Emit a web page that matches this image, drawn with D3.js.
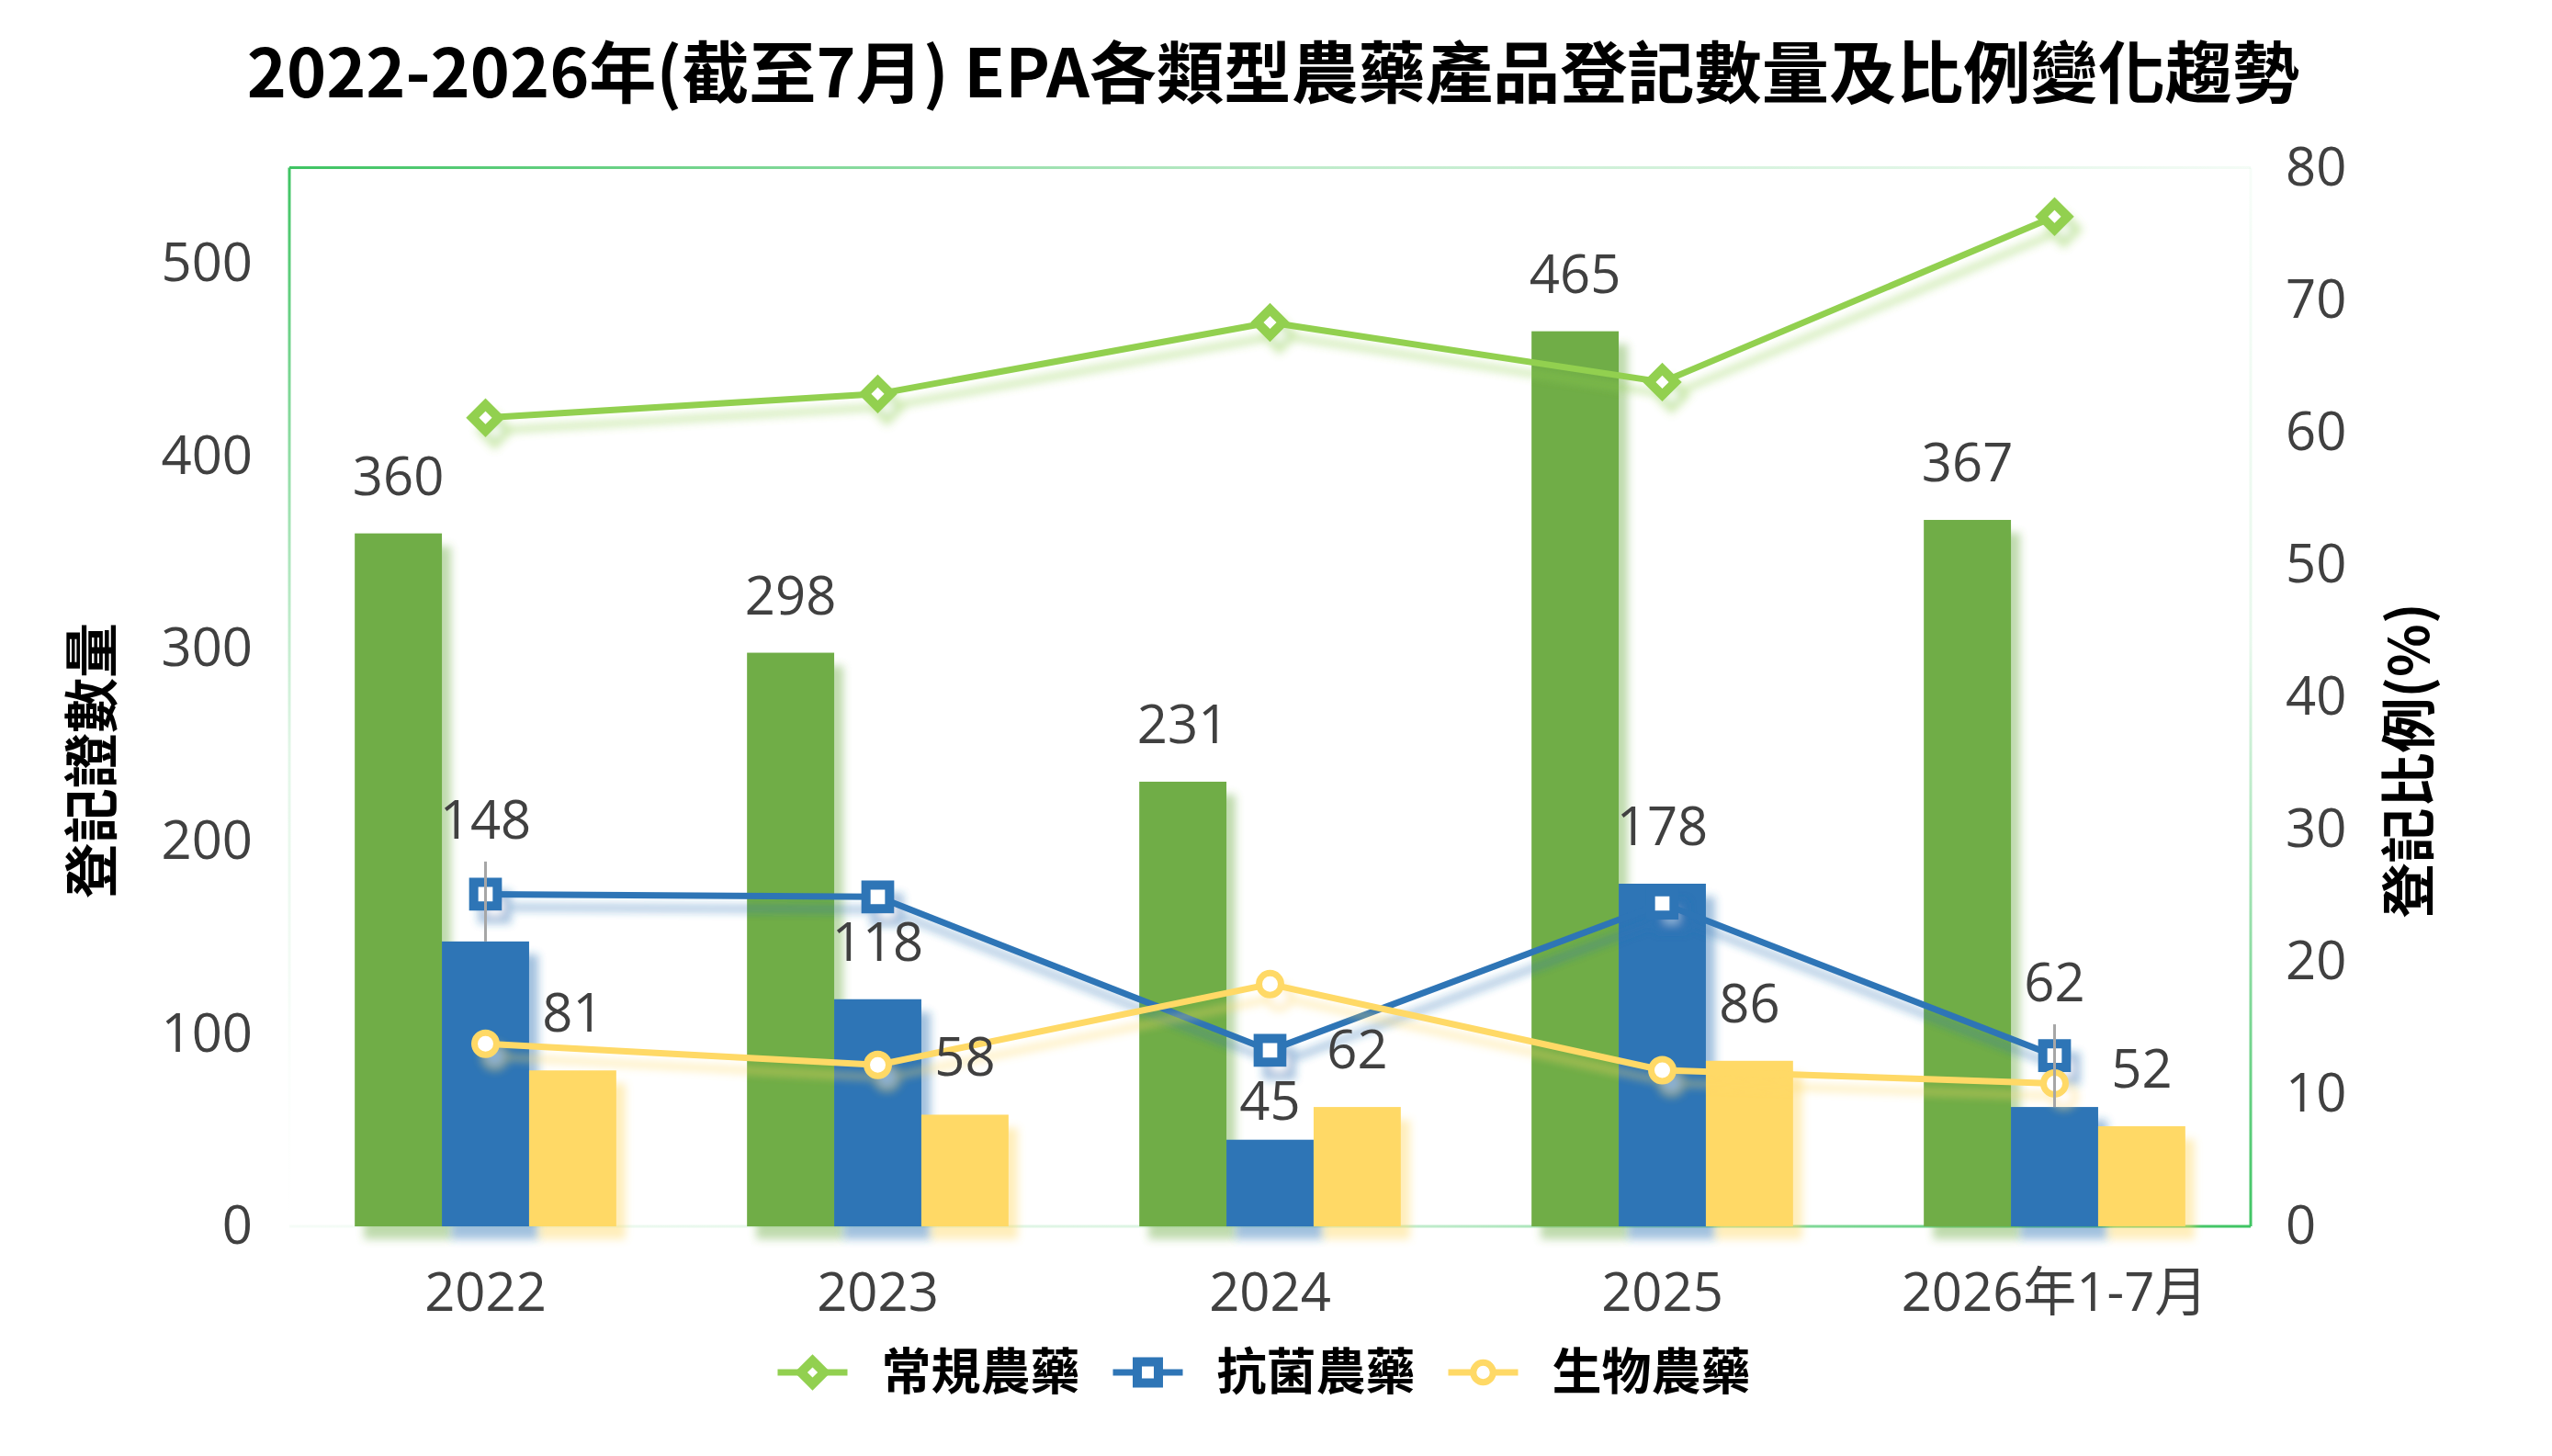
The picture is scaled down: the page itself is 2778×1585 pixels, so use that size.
<!DOCTYPE html>
<html>
  <head>
    <meta charset="utf-8">
    <title>EPA 農藥產品登記數量及比例</title>
    <script src="https://cdn.jsdelivr.net/npm/d3@7"></script>
    <style>
      body { margin: 0; background: #fff; }
      .num { font-family: "Open Sans", "Noto Sans", "Noto Sans CJK TC", sans-serif; fill: #404040; }
      .cjk { font-family: "Noto Sans CJK TC", sans-serif; font-weight: 700; fill: #000; }
    </style>
  </head>
  <body>
    <svg id="chart" width="2778" height="1585"></svg>

    <script>
      // data
      const categories = ["2022", "2023", "2024", "2025", "2026年1-7月"];
      const seriesNames = ["常規農藥", "抗菌農藥", "生物農藥"];
      const conventionalCount = [360, 298, 231, 465, 367];
      const antimicrobialCount = [148, 118, 45, 178, 62];
      const biologicalCount = [81, 58, 62, 86, 52];
      const conventionalShare = [61.1, 62.9, 68.3, 63.8, 76.3];
      const antimicrobialShare = [25.1, 24.9, 13.3, 24.4, 12.9];
      const biologicalShare = [13.8, 12.2, 18.3, 11.8, 10.8];
      const leftTicks = [0, 100, 200, 300, 400, 500];
      const rightTicks = [0, 10, 20, 30, 40, 50, 60, 70, 80];

      const counts = [conventionalCount, antimicrobialCount, biologicalCount];
      const shares = [conventionalShare, antimicrobialShare, biologicalShare];

      // look
      const barColors = ["#70AD47", "#2E75B6", "#FFD966"];
      const lineColors = ["#92D050", "#2E75B6", "#FFD966"];
      const frameColor = "#3FC463";
      const symbols = [d3.symbolSquare, d3.symbolSquare, d3.symbolCircle];
      const symbolSizes = [400, 660, 452];
      const symbolStroke = [10, 10, 7];
      const symbolRotate = [45, 0, 0];

      // label nudges for crowded blue labels (series-index)
      const labelNudge = {
        "1-0": { dy: -112, leader: true },
        "1-2": { dy: -22 },
        "1-4": { dy: -115, leader: true }
      };

      const W = 2778, H = 1585;
      const plot = { left: 315, right: 2450, top: 182.5, bottom: 1335 };

      const svg = d3.select("#chart");
      const defs = svg.append("defs");

      // soft coloured drop shadow
      const f = defs.append("filter")
        .attr("id", "shadow")
        .attr("filterUnits", "userSpaceOnUse")
        .attr("x", 0).attr("y", 0).attr("width", W).attr("height", H);
      f.append("feGaussianBlur").attr("in", "SourceGraphic").attr("stdDeviation", 5).attr("result", "blur");
      f.append("feOffset").attr("in", "blur").attr("dx", 10).attr("dy", 14).attr("result", "off");
      f.append("feComponentTransfer").attr("in", "off").attr("result", "sh")
        .append("feFuncA").attr("type", "linear").attr("slope", 0.45);
      const merge = f.append("feMerge");
      merge.append("feMergeNode").attr("in", "sh");
      merge.append("feMergeNode").attr("in", "SourceGraphic");

      // scales
      const x = d3.scaleBand().domain(categories).range([plot.left, plot.right]);
      const inner = d3.scaleBand().domain([0, 1, 2])
        .range([x.bandwidth() / 6, x.bandwidth() * 5 / 6]);
      const y = d3.scaleLinear().domain([0, 550]).range([plot.bottom, plot.top]);
      const yr = d3.scaleLinear().domain([0, 80]).range([plot.bottom, plot.top]);

      // frame with fading green edges
      function grad(id, x1, y1, x2, y2, stops) {
        const g = defs.append("linearGradient").attr("id", id)
          .attr("gradientUnits", "userSpaceOnUse")
          .attr("x1", x1).attr("y1", y1).attr("x2", x2).attr("y2", y2);
        stops.forEach(function(s) {
          g.append("stop").attr("offset", s[0])
            .attr("stop-color", frameColor).attr("stop-opacity", s[1]);
        });
      }
      grad("gTop", plot.left, 0, plot.right, 0, [[0, 1], [0.5, 0.35], [1, 0.06]]);
      grad("gLeft", 0, plot.top, 0, plot.bottom, [[0, 1], [0.55, 0.15], [0.85, 0.02], [1, 0]]);
      grad("gRight", 0, plot.top, 0, plot.bottom, [[0, 0.04], [0.45, 0.12], [0.75, 0.6], [1, 1]]);
      grad("gBottom", plot.left, 0, plot.right, 0, [[0, 0.05], [0.5, 0.2], [0.8, 0.7], [1, 1]]);

      const frame = svg.append("g").attr("fill", "none").attr("stroke-width", 3);
      frame.append("line").attr("x1", plot.left).attr("x2", plot.right)
        .attr("y1", plot.top).attr("y2", plot.top).attr("stroke", "url(#gTop)");
      frame.append("line").attr("x1", plot.left).attr("x2", plot.left)
        .attr("y1", plot.top).attr("y2", plot.bottom).attr("stroke", "url(#gLeft)");
      frame.append("line").attr("x1", plot.right).attr("x2", plot.right)
        .attr("y1", plot.top).attr("y2", plot.bottom).attr("stroke", "url(#gRight)");
      frame.append("line").attr("x1", plot.left).attr("x2", plot.right)
        .attr("y1", plot.bottom).attr("y2", plot.bottom).attr("stroke", "url(#gBottom)");

      // axes
      const leftAxis = svg.append("g")
        .attr("transform", "translate(" + plot.left + ",0)")
        .call(d3.axisLeft(y).tickValues(leftTicks).tickSize(0).tickPadding(40));
      const rightAxis = svg.append("g")
        .attr("transform", "translate(" + plot.right + ",0)")
        .call(d3.axisRight(yr).tickValues(rightTicks).tickSize(0).tickPadding(38));
      const bottomAxis = svg.append("g")
        .attr("transform", "translate(0," + plot.bottom + ")")
        .call(d3.axisBottom(x).tickSize(0).tickPadding(51));
      [leftAxis, rightAxis, bottomAxis].forEach(function(a) {
        a.select(".domain").remove();
        a.selectAll("text")
          .attr("class", "num")
          .style("font-size", "58px");
      });

      // axis titles
      svg.append("text").attr("class", "cjk")
        .attr("transform", "translate(101,828) rotate(-90)")
        .attr("text-anchor", "middle").attr("dy", "0.35em")
        .style("font-size", "60px")
        .text("登記證數量");
      svg.append("text").attr("class", "cjk")
        .attr("transform", "translate(2623,828) rotate(-90)")
        .attr("text-anchor", "middle").attr("dy", "0.35em")
        .style("font-size", "60px")
        .text("登記比例(%)");

      // bars, drawn group by group so each covers its neighbour's shadow
      const bars = svg.append("g");
      categories.forEach(function(c, i) {
        counts.forEach(function(arr, s) {
          bars.append("rect")
            .attr("x", x(c) + inner(s))
            .attr("width", inner.bandwidth())
            .attr("y", y(arr[i]))
            .attr("height", y(0) - y(arr[i]))
            .attr("fill", barColors[s])
            .attr("filter", "url(#shadow)");
        });
      });

      // share lines with markers
      const lineGen = d3.line()
        .x(function(d, i) { return x(categories[i]) + x.bandwidth() / 2; })
        .y(function(d) { return yr(d); });

      shares.forEach(function(arr, s) {
        const g = svg.append("g").attr("filter", "url(#shadow)");
        g.append("path")
          .datum(arr)
          .attr("d", lineGen)
          .attr("fill", "none")
          .attr("stroke", lineColors[s])
          .attr("stroke-width", 7)
          .attr("stroke-linejoin", "round");
        g.selectAll(".mk")
          .data(arr)
          .enter().append("path")
          .attr("class", "mk")
          .attr("d", d3.symbol().type(symbols[s]).size(symbolSizes[s]))
          .attr("transform", function(d, i) {
            return "translate(" + (x(categories[i]) + x.bandwidth() / 2) + "," + yr(d) + ") rotate(" + symbolRotate[s] + ")";
          })
          .attr("fill", "#fff")
          .attr("stroke", lineColors[s])
          .attr("stroke-width", symbolStroke[s]);
      });

      // bar value labels
      const labels = svg.append("g");
      counts.forEach(function(arr, s) {
        arr.forEach(function(v, i) {
          const cx = x(categories[i]) + inner(s) + inner.bandwidth() / 2;
          const top = y(v);
          const nudge = labelNudge[s + "-" + i];
          const base = top + (nudge ? nudge.dy : -42);
          if (nudge && nudge.leader) {
            labels.append("line")
              .attr("x1", cx).attr("x2", cx)
              .attr("y1", base + 25).attr("y2", top)
              .attr("stroke", "#A6A6A6").attr("stroke-width", 3);
          }
          labels.append("text")
            .attr("class", "num")
            .attr("x", cx).attr("y", base)
            .attr("text-anchor", "middle")
            .style("font-size", "58px")
            .text(v);
        });
      });

      // title, fitted to the reference width
      const title = svg.append("text").attr("class", "cjk")
        .attr("x", 1386).attr("y", 80)
        .attr("text-anchor", "middle").attr("dy", "0.35em")
        .style("font-size", "74px")
        .text("2022-2026年(截至7月) EPA各類型農藥產品登記數量及比例變化趨勢");
      const tw = title.node().getComputedTextLength();
      title.style("font-size", Math.min(80, Math.max(64, 74 * 2235 / tw)) + "px");

      // legend
      const legend = svg.append("g");
      const items = seriesNames.map(function(name, s) {
        const g = legend.append("g");
        g.append("line").attr("x1", 0).attr("x2", 76).attr("y1", 0).attr("y2", 0)
          .attr("stroke", lineColors[s]).attr("stroke-width", 7);
        g.append("path")
          .attr("d", d3.symbol().type(symbols[s]).size(symbolSizes[s] * 0.8))
          .attr("transform", "translate(38,0) rotate(" + symbolRotate[s] + ")")
          .attr("fill", "#fff").attr("stroke", lineColors[s]).attr("stroke-width", symbolStroke[s]);
        const t = g.append("text").attr("class", "cjk")
          .attr("x", 113).attr("dy", "0.35em")
          .style("font-size", "54px")
          .text(name);
        return { g: g, w: 113 + t.node().getComputedTextLength() };
      });
      const gap = 36;
      const total = d3.sum(items, function(d) { return d.w; }) + gap * (items.length - 1);
      let lx = 1376 - total / 2;
      items.forEach(function(it) {
        it.g.attr("transform", "translate(" + lx + ",1494)");
        lx += it.w + gap;
      });
    </script>
  </body>
</html>
